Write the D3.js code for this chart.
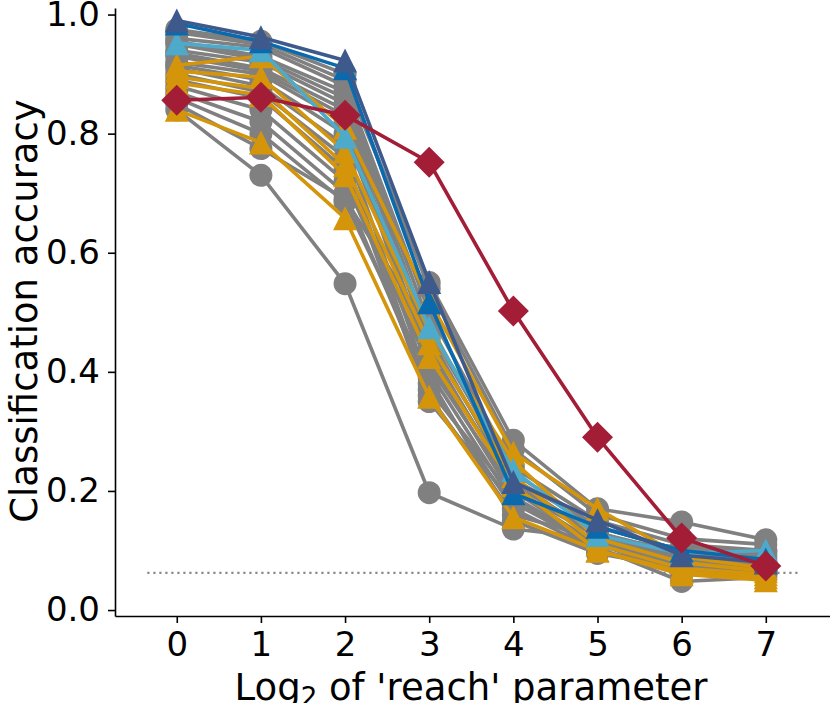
<!DOCTYPE html>
<html>
<head>
<meta charset="utf-8">
<script src="https://cdn.jsdelivr.net/npm/d3@7"></script>
<style>
    body { margin: 0; background: #fff; }
    svg { display: block; }
    text { font-family: "DejaVu Sans", sans-serif; fill: #000; }
</style>
</head>
<body>
<svg id="chart" width="830" height="703"></svg>
<script>
// reach exponents on the x axis
const xValues = [0, 1, 2, 3, 4, 5, 6, 7];
const xTicks = [0, 1, 2, 3, 4, 5, 6, 7];
const yTicks = [0.0, 0.2, 0.4, 0.6, 0.8, 1.0];
const chanceLevel = 0.0625;

// grey runs (circles)
const greySeries = [
    [0.975, 0.955, 0.900, 0.540, 0.270, 0.160, 0.120, 0.110],
    [0.970, 0.950, 0.890, 0.550, 0.285, 0.170, 0.148, 0.118],
    [0.960, 0.945, 0.880, 0.500, 0.240, 0.150, 0.110, 0.100],
    [0.955, 0.930, 0.870, 0.480, 0.220, 0.140, 0.100, 0.090],
    [0.950, 0.925, 0.860, 0.460, 0.210, 0.130, 0.095, 0.085],
    [0.940, 0.920, 0.850, 0.440, 0.200, 0.125, 0.090, 0.080],
    [0.935, 0.910, 0.840, 0.450, 0.220, 0.120, 0.085, 0.075],
    [0.930, 0.905, 0.830, 0.420, 0.190, 0.110, 0.080, 0.070],
    [0.920, 0.900, 0.820, 0.400, 0.180, 0.115, 0.075, 0.065],
    [0.915, 0.890, 0.800, 0.430, 0.210, 0.130, 0.090, 0.080],
    [0.910, 0.880, 0.780, 0.380, 0.170, 0.100, 0.070, 0.060],
    [0.900, 0.870, 0.760, 0.360, 0.160, 0.120, 0.080, 0.070],
    [0.890, 0.860, 0.740, 0.350, 0.180, 0.105, 0.048, 0.055],
    [0.880, 0.840, 0.720, 0.410, 0.200, 0.110, 0.065, 0.075],
    [0.870, 0.820, 0.700, 0.370, 0.190, 0.100, 0.060, 0.065],
    [0.860, 0.800, 0.685, 0.390, 0.150, 0.095, 0.070, 0.060],
    [0.850, 0.775, 0.690, 0.470, 0.230, 0.140, 0.100, 0.095],
    [0.840, 0.730, 0.548, 0.197, 0.136, 0.120, 0.105, 0.100]
];

// orange runs (triangles)
const orangeSeries = [
    [0.915, 0.930, 0.810, 0.520, 0.264, 0.170, 0.090, 0.070],
    [0.905, 0.895, 0.770, 0.470, 0.250, 0.120, 0.080, 0.065],
    [0.895, 0.876, 0.747, 0.448, 0.225, 0.110, 0.070, 0.060],
    [0.885, 0.865, 0.730, 0.425, 0.210, 0.100, 0.064, 0.055],
    [0.840, 0.785, 0.658, 0.358, 0.156, 0.100, 0.060, 0.050]
];

const lightBlueSeries = [0.952, 0.940, 0.795, 0.475, 0.235, 0.126, 0.095, 0.100];
const blueSeries = [0.985, 0.955, 0.910, 0.517, 0.196, 0.140, 0.100, 0.085];
const navySeries = [0.990, 0.962, 0.923, 0.551, 0.215, 0.151, 0.092, 0.080];
const redSeries = [0.856, 0.861, 0.831, 0.752, 0.502, 0.290, 0.121, 0.074];

const svg = d3.select("#chart");

const x = d3.scaleLinear().domain([-0.734, 7.763]).range([115, 830]);
const y = d3.scaleLinear().domain([-0.01, 1.011]).range([616, 8]);

const line = d3.line()
    .x((d, i) => x(xValues[i]))
    .y((d) => y(d));

// chance level
svg.append("line")
    .attr("x1", x(-0.35))
    .attr("x2", x(7.38))
    .attr("y1", y(chanceLevel))
    .attr("y2", y(chanceLevel))
    .attr("stroke", "#888")
    .attr("stroke-width", 2.2)
    .attr("stroke-dasharray", "2.2,3.8");

function triangle(s) {
    return `M0,${-s}L${-s},${s}L${s},${s}Z`;
}

function diamond(s) {
    return `M0,${-s}L${s},0L0,${s}L${-s},0Z`;
}

function drawSeries(values, color, marker) {
    const g = svg.append("g");
    g.append("path")
        .datum(values)
        .attr("d", line)
        .attr("fill", "none")
        .attr("stroke", color)
        .attr("stroke-width", 3.6)
        .attr("stroke-linejoin", "round");

    const pts = g.selectAll(".pt")
        .data(values)
        .join(marker === "circle" ? "circle" : "path")
        .attr("fill", color);

    if (marker === "circle") {
        pts.attr("cx", (d, i) => x(xValues[i]))
            .attr("cy", (d) => y(d))
            .attr("r", 11.5);
    } else {
        const shape = marker === "triangle" ? triangle(12) : diamond(15.5);
        pts.attr("d", shape)
            .attr("transform", (d, i) => `translate(${x(xValues[i])},${y(d)})`);
    }
}

greySeries.forEach((s) => drawSeries(s, "#808080", "circle"));
orangeSeries.forEach((s) => drawSeries(s, "#d4950a", "triangle"));
drawSeries(lightBlueSeries, "#4eaacb", "triangle");
drawSeries(blueSeries, "#0a6aad", "triangle");
drawSeries(navySeries, "#3e5a8d", "triangle");
drawSeries(redSeries, "#a31d37", "diamond");

// axes
const xAxis = svg.append("g")
    .attr("transform", "translate(0,616)")
    .call(d3.axisBottom(x).tickValues(xTicks).tickFormat(d3.format("d"))
        .tickSize(7).tickSizeOuter(0).tickPadding(9));

const yAxis = svg.append("g")
    .attr("transform", "translate(115,0)")
    .call(d3.axisLeft(y).tickValues(yTicks).tickFormat(d3.format(".1f"))
        .tickSize(7).tickSizeOuter(0).tickPadding(8));

[xAxis, yAxis].forEach((a) => {
    a.select(".domain").attr("stroke", "#000").attr("stroke-width", 1.6);
    a.selectAll(".tick line").attr("stroke", "#000").attr("stroke-width", 1.6);
    a.selectAll(".tick text")
        .attr("font-family", "DejaVu Sans")
        .attr("font-size", 34)
        .attr("fill", "#000");
});

// axis labels
const xLabel = svg.append("text")
    .attr("x", 471)
    .attr("y", 700)
    .attr("text-anchor", "middle")
    .attr("font-size", 37);
xLabel.append("tspan").text("Log");
xLabel.append("tspan").attr("font-size", 26).attr("dy", 6).text("2");
xLabel.append("tspan").attr("dy", -6).text(" of 'reach' parameter");

svg.append("text")
    .attr("transform", "translate(37,311) rotate(-90)")
    .attr("text-anchor", "middle")
    .attr("font-size", 37)
    .text("Classification accuracy");
</script>
</body>
</html>
